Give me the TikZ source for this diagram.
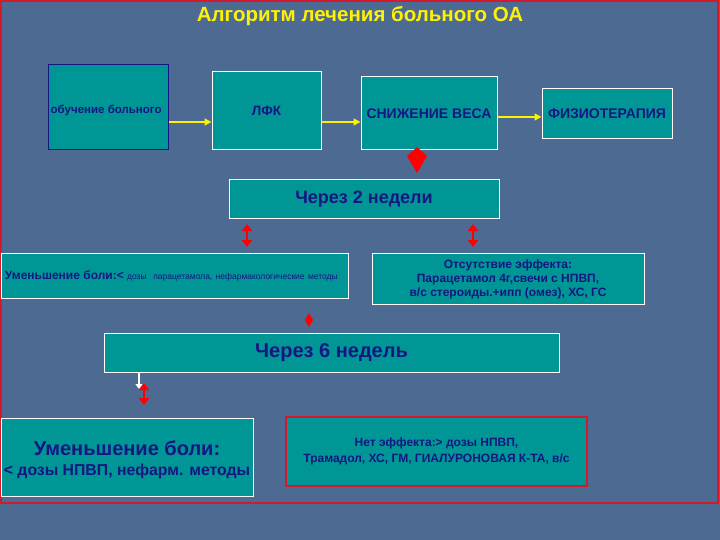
\documentclass[tikz,border=0pt]{standalone}
\usepackage{fontspec}
\setmainfont{Liberation Sans}
\usetikzlibrary{arrows.meta}
\definecolor{bgc}{RGB}{76,106,146}
\definecolor{tealf}{RGB}{0,150,150}
\definecolor{navy}{RGB}{22,22,130}
\definecolor{framered}{RGB}{210,25,45}
\newcommand{\fsz}[1]{\fontsize{#1}{#1}\selectfont}
\begin{document}
\begin{tikzpicture}[x=1pt,y=-1pt,
  box/.style={draw=white, line width=1pt, fill=tealf, inner sep=0pt, text=navy, font=\bfseries, align=center},
  txt/.style={inner sep=0pt, text=navy, font=\bfseries, align=center},
  yarrow/.style={draw=yellow, line width=1.4pt, -{Triangle[length=7pt,width=7pt]}},
  rarrow/.style={draw=red, line width=2.8pt, {Triangle[length=7pt,width=10pt]}-{Triangle[length=7pt,width=10pt]}},
  warrow/.style={draw=white, line width=1.5pt, -{Triangle[length=5pt,width=7pt]}}
]
\fill[bgc] (0,0) rectangle (720,540);
\useasboundingbox (0,0) rectangle (720,540);
\draw[framered, line width=1.5pt] (1,1) rectangle (718,503);

\node[text=yellow, font=\bfseries\fsz{20.5}] (title) at (360,16) {Алгоритм лечения больного ОА};

% top row
\node[box, draw=navy, minimum width=120pt, minimum height=85pt] (b1) at (108,107.5) {};
\node[txt, anchor=west, font=\bfseries\fsz{11.5}] (t1) at (50.5,110) {обучение больного};
\node[box, minimum width=109pt, minimum height=78pt, font=\bfseries\fsz{13.5}] (b2) at (266.5,111) {ЛФК};
\node[box, minimum width=136pt, minimum height=73pt, font=\bfseries\fsz{14}] (b3) at (429,113.5) {СНИЖЕНИЕ ВЕСА};
\node[box, minimum width=130pt, minimum height=50pt, font=\bfseries\fsz{14}] (b4) at (607,114) {ФИЗИОТЕРАПИЯ};

\coordinate (y1) at (0,122);
\coordinate (y2) at (0,117);
\draw[yarrow] (b1.east |- y1) -- (b2.west |- y1);
\draw[yarrow] (b2.east |- y1) -- (b3.west |- y1);
\draw[yarrow] (b3.east |- y2) -- (b4.west |- y2);

% kite
\fill[red] (417,147) -- (427,156) -- (417,173) -- (407,156) -- cycle;

% second level
\node[box, minimum width=270pt, minimum height=39pt, font=\bfseries\fsz{18}] (w2) at (364,199.5) {Через 2 недели};

\node[box, minimum width=347pt, minimum height=45pt, text width=339pt, align=left] (l2) at (174.5,275.5)
  {{\fsz{12}Уменьшение боли:<} {\mdseries\fsz{8.5}дозы\ \ парацетамола, нефармакологические методы}};
\node[box, minimum width=272pt, minimum height=51pt, font=\bfseries\fontsize{12}{14}\selectfont] (r2) at (508,279)
  {Отсутствие эффекта:\\Парацетамол 4г,свечи с НПВП,\\в/с стероиды.+ипп (омез), ХС, ГС};

\draw[rarrow] (247,224) -- (247,247);
\draw[rarrow] (473,224) -- (473,247);

% small diamond
\fill[red] (309,313) -- (313,320) -- (309,327) -- (305,320) -- cycle;

% third level
\node[box, minimum width=455pt, minimum height=39pt, font=\bfseries\fsz{20}] (w6) at (331.5,352.5) {Через 6 недель};

\node[box, minimum width=252pt, minimum height=78pt] (l3) at (127,457) {};
\node[txt] (t3) at (127,460)
  {{\fsz{20}Уменьшение боли:}\\[8pt]{\fsz{15.8}< дозы НПВП, нефарм. методы}};
\node[box, draw=framered, line width=2pt, minimum width=301pt, minimum height=69pt, font=\bfseries\fontsize{12}{16}\selectfont] (r3) at (436.5,451.5)
  {Нет эффекта:> дозы НПВП,\\Трамадол, ХС, ГМ, ГИАЛУРОНОВАЯ К-ТА, в/с};

\coordinate (wa) at (139,389);
\draw[warrow] (w6.south -| wa) -- (wa);
\draw[rarrow] (144,383) -- (144,405);
\end{tikzpicture}
\end{document}
